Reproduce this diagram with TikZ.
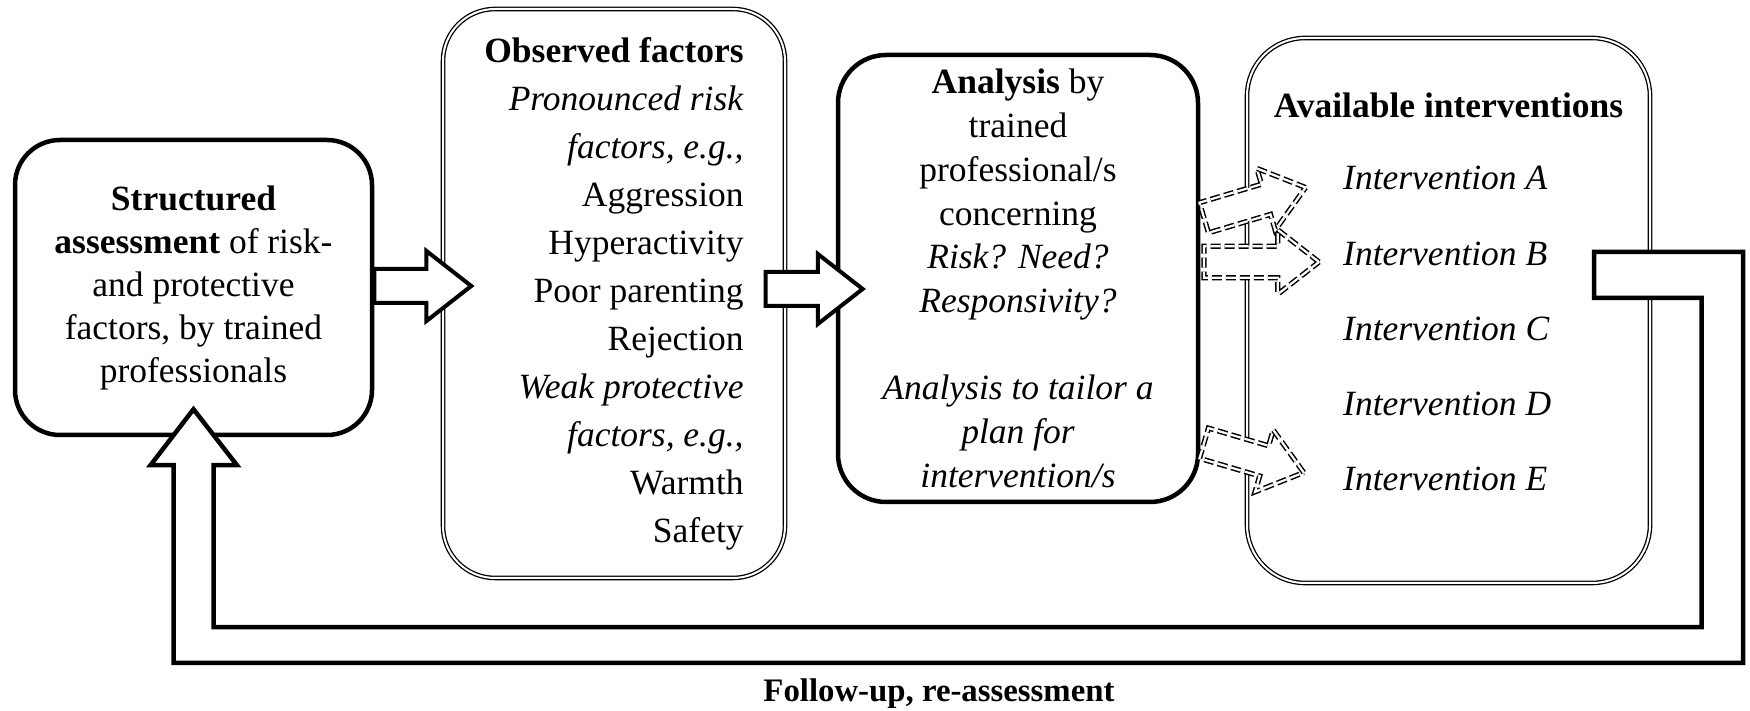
\documentclass[tikz,border=0pt]{standalone}
\usepackage{fontspec}
\setmainfont{Liberation Serif}
\usetikzlibrary{positioning,shapes.arrows,calc}

\begin{document}
\begin{tikzpicture}[x=1pt, y=1pt, font=\fontsize{35.5}{43}\selectfont,
  box/.style={draw, line width=4.5pt, rounded corners=45pt, align=center, inner sep=0pt},
  dbox/.style={draw, line width=1.3pt, double, double distance=2pt, rounded corners=52pt, inner sep=0pt},
  intv/.style={inner sep=0pt, font=\fontsize{35.5}{41}\selectfont\itshape},
  bigarrow/.style={single arrow, draw, line width=4pt, fill=white, inner xsep=0pt, inner ysep=15pt, text height=0pt, text depth=0pt, single arrow head extend=18pt, single arrow tip angle=76, anchor=tail},
  dasharrow/.style={single arrow, draw, line width=1.5pt, double, double distance=2.2pt, dash pattern=on 10pt off 4pt, fill=white, inner xsep=0pt, inner ysep=15pt, text height=0pt, text depth=0pt, single arrow head extend=16.5pt, single arrow tip angle=76, anchor=tail},
  hollow/.style={draw, line width=4.5pt, fill=white}]
    \useasboundingbox (0,0) rectangle (1750,711);
    % boxes
    \node[box, minimum width=357pt, minimum height=295pt] (assess) at (193.5,423.5) {\textbf{Structured}\\ \textbf{assessment} of risk-\\ and protective\\ factors, by trained\\ professionals};
    \node[dbox, align=right, minimum width=342pt, minimum height=569pt, font=\fontsize{35.5}{48}\selectfont] (observed) at (614,417.5) {\textbf{Observed factors}\\ \textit{Pronounced risk}\\ \textit{factors, e.g.,}\\ Aggression\\ Hyperactivity\\ Poor parenting\\ Rejection\\ \textit{Weak protective}\\ \textit{factors, e.g.,}\\ Warmth\\ Safety};
    \node[box, rounded corners=48pt, minimum width=360pt, minimum height=447pt, font=\fontsize{35.5}{43.7}\selectfont] (analysis) at (1018,432.5) {\textbf{Analysis} by\\ trained\\ professional/s\\ concerning\\ \textit{Risk? Need?}\\ \textit{Responsivity?}\\ ~\\ \textit{Analysis to tailor a}\\ \textit{plan for}\\ \textit{intervention/s}};
    \node[dbox, rounded corners=58pt, minimum width=403pt, minimum height=545pt] (interv) at (1448.5,400.5) {};
    \node[below=55.5pt of interv.north, inner sep=0pt] (avail) {\textbf{Available interventions}};
    \node[intv, anchor=base west] (intA) at (1343,521) {Intervention A};
    \node[intv, below=51pt of intA.south west, anchor=north west] (intB) {Intervention B};
    \node[intv, below=51pt of intB.south west, anchor=north west] (intC) {Intervention C};
    \node[intv, below=51pt of intC.south west, anchor=north west] (intD) {Intervention D};
    \node[intv, below=51pt of intD.south west, anchor=north west] (intE) {Intervention E};
    % arrows
    \node[bigarrow, minimum height=97pt] (arr1) at ($(assess.east)+(-2,1.5)$) {};
    \node[bigarrow, minimum height=97pt] (arr2) at ($(observed.east)+(-22,4.5)$) {};
    \node[dasharrow, rotate=16.6, minimum height=106pt] (toA) at ($(analysis.east)+(3,60.5)$) {};
    \node[dasharrow, minimum height=115pt] (toB) at ($(analysis.east)+(3,16.5)$) {};
    \node[dasharrow, rotate=-16.4, minimum height=104pt] (toE) at ($(analysis.east)+(3,-164.5)$) {};
    % feedback loop
    \coordinate (fbtip) at ($(assess.south)+(0,28)$);
    \coordinate (fbtail) at (1594,436);
    \draw[hollow] (fbtail) ++(0,23) -- ++(149,0) -- ++(0,-411) -| ($(fbtip)+(-20,-56)$) -- ++(-23,0) -- (fbtip) -- ++(43.5,-56) -- ++(-23.5,0) |- ++(1488,-162) |- ($(fbtail)+(0,-23)$) -- cycle;
    \node[inner sep=0pt, font=\fontsize{32.8}{40}\selectfont\bfseries] (followup) at (939,17) {Follow-up, re-assessment};
\end{tikzpicture}
\end{document}
